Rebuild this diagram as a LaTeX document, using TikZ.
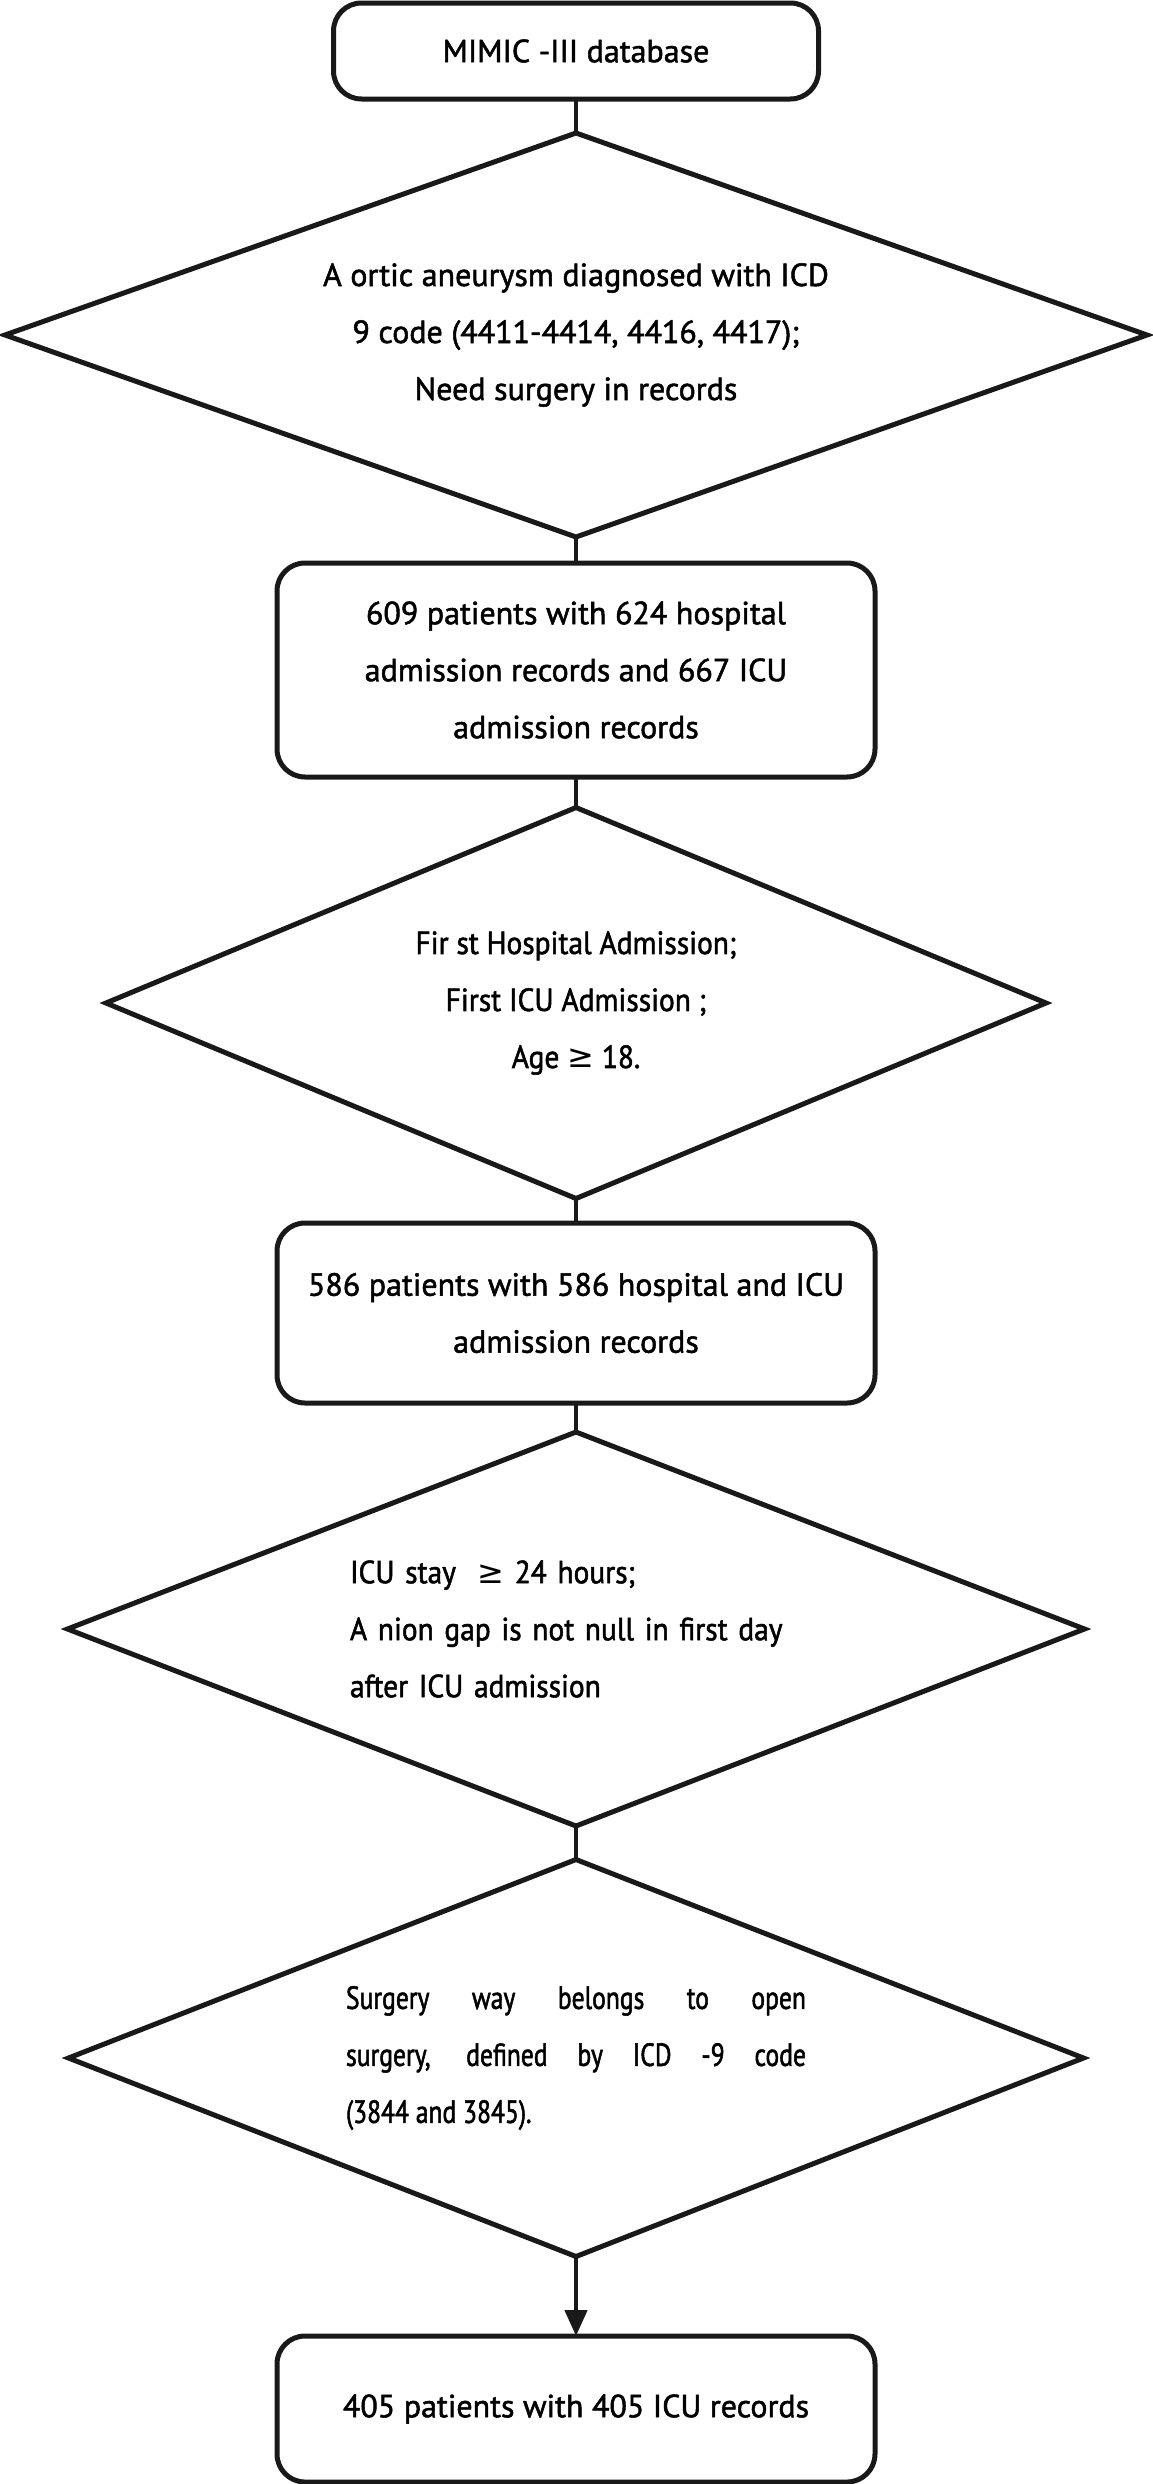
\documentclass[tikz,border=0pt]{standalone}
\usepackage{fontspec}
\setmainfont{PT Sans}[FakeBold=1.6]
\newfontfamily\narrowFont{PT Sans}[FakeBold=1.6,FakeStretch=0.92]
\newfontfamily\narrowerFont{PT Sans}[FakeBold=1.6,FakeStretch=0.8]
\newfontfamily\symbolFont{DejaVu Sans}
\usetikzlibrary{shapes.geometric,arrows.meta}

\colorlet{lineColor}{black!90}
\tikzstyle{flowText}=[font=\fontsize{32}{57}\selectfont,inner sep=0pt,outer sep=0pt]
\tikzstyle{recordBox}=[flowText,draw=lineColor,line width=5pt,rounded corners=28pt,align=center,minimum width=598pt]
\tikzstyle{criterionDiamond}=[flowText,diamond,draw=lineColor,line width=5pt,aspect=2.6]
\tikzstyle{flowLink}=[draw=lineColor,line width=4.5pt]

\begin{document}
\begin{tikzpicture}[x=1pt,y=-1pt]
\newcommand{\midX}{576}
\useasboundingbox (0,0) rectangle (1152,2484);
        \node[recordBox,minimum width=485pt,minimum height=96pt] (mimicBox)
                at (\midX,51) {MIMIC -III database};
        \node[criterionDiamond,minimum width=1142pt,minimum height=404pt,align=center] (aneurysmCheck)
                at (\midX,335)
                {A ortic aneurysm diagnosed with ICD\\9 code (4411-4414, 4416, 4417);\\Need surgery in records};
        \node[recordBox,minimum height=214pt] (cohortAll)
                at (\midX,670)
                {609 patients with 624 hospital\\admission records and 667 ICU\\admission records};
        \node[criterionDiamond,minimum width=940pt,minimum height=391pt,align=center,
                font=\fontsize{32}{57}\narrowFont] (firstAdmissionCheck)
                at (\midX,1003)
                {Fir st Hospital Admission;\\First ICU Admission ;\\Age {\symbolFont ≥} 18.};
        \node[recordBox,minimum height=180pt] (cohortFirst)
                at (\midX,1313)
                {586 patients with 586 hospital and ICU\\admission records};
        \node[criterionDiamond,minimum width=1017pt,minimum height=394pt,text width=452pt,align=left,
                font=\fontsize{32}{57}\narrowFont] (icuStayCheck)
                at (\midX,1629)
                {ICU stay~~{\symbolFont ≥} 24 hours;\\A nion gap is not null in first day\\after ICU admission};
        \node[criterionDiamond,minimum width=1015pt,minimum height=397pt,text width=460pt,align=justify,
                font=\fontsize{32}{57}\narrowerFont] (openSurgeryCheck)
                at (\midX,2058)
                {Surgery way belongs to open\linebreak surgery, defined by ICD -9 code\linebreak (3844 and 3845).};
        \node[recordBox,minimum height=146pt] (cohortFinal)
                at (\midX,2409)
                {405 patients with 405 ICU records};
        \foreach \from/\to in {mimicBox/aneurysmCheck,aneurysmCheck/cohortAll,cohortAll/firstAdmissionCheck,
                firstAdmissionCheck/cohortFirst,cohortFirst/icuStayCheck,icuStayCheck/openSurgeryCheck} {
                \draw[flowLink] (\from.south) -- (\to.north);
        }
        \draw[flowLink,-{Triangle[width=22pt,length=26pt]}] (openSurgeryCheck.south) -- (cohortFinal.north);
\end{tikzpicture}
\end{document}
